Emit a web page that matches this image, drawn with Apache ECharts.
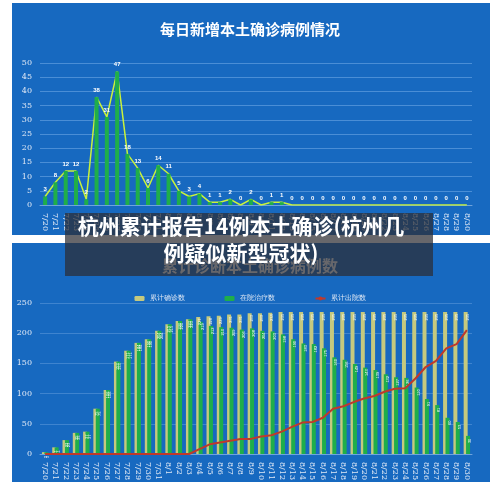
<!DOCTYPE html><html><head><meta charset="utf-8">
<script src="https://cdn.jsdelivr.net/npm/echarts@6/dist/echarts.min.js"></script>
<style>body{margin:0;background:#fff}#c{width:500px;height:485px}</style></head><body><div id="c"></div>
<script>
const dates=['7/20','7/21','7/22','7/23','7/24','7/25','7/26','7/27','7/28','7/29','7/30','7/31','8/1','8/2','8/3','8/4','8/5','8/6','8/7','8/8','8/9','8/10','8/11','8/12','8/13','8/14','8/15','8/16','8/17','8/18','8/19','8/20','8/21','8/22','8/23','8/24','8/25','8/26','8/27','8/28','8/29','8/30'];
const daily=[3,8,12,12,2,38,31,47,18,13,6,14,11,5,3,4,1,1,2,0,2,0,1,1,0,0,0,0,0,0,0,0,0,0,0,0,0,0,0,0,0,0];
const cumulative=[3,11,23,35,37,75,106,153,171,184,190,204,215,220,223,227,228,229,231,231,233,233,234,235,235,235,235,235,235,235,235,235,235,235,235,235,235,235,235,235,235,235];
const discharged=[0,0,0,0,0,0,0,0,0,0,0,0,0,0,0,8,16,19,22,25,25,29,31,37,45,52,53,60,75,79,86,92,96,103,108,109,125,144,154,175,182,205];
const hospital=cumulative.map((v,i)=>v-discharged[i]);
const ch=echarts.init(document.getElementById('c'));
const axLab={color:'#dfe8f5',fontSize:8,rotate:-90,interval:0,fontFamily:'DejaVu Serif'};
ch.setOption({
 animation:false,
 graphic:[
  {type:'rect',shape:{x:12,y:3,width:478,height:232},style:{fill:'#1769c0'},z:-10},
  {type:'rect',shape:{x:12,y:243,width:478,height:239},style:{fill:'#1769c0'},z:-10},
  {type:'text',left:'center',top:22,style:{text:'每日新增本土确诊病例情况',fill:'#fff',font:'bold 15px "Noto Sans CJK SC"'},z:10},
  {type:'text',left:'center',top:258,style:{text:'累计诊断本土确诊病例数',fill:'#fff',font:'bold 16px "Noto Sans CJK SC"'},z:10},
  {type:'rect',shape:{x:65,y:213,width:368,height:63},style:{fill:'rgba(45,45,50,0.72)'},z:100},
  {type:'text',x:241,y:213,style:{text:'杭州累计报告14例本土确诊(杭州几\n例疑似新型冠状)',fill:'#fff',align:'center',lineHeight:27,font:'bold 21px "Noto Sans CJK SC"'},z:101}
 ],
 legend:{top:290,left:'center',itemWidth:10,itemHeight:5,itemGap:40,textStyle:{color:'#dfe8f5',fontSize:7},data:['累计确诊数','在院治疗数','累计出院数']},
 grid:[{left:40,right:28,top:63,height:142},{left:40,right:28,top:303,height:151}],
 xAxis:[
  {gridIndex:0,type:'category',data:dates,axisLabel:axLab,axisTick:{show:false},axisLine:{lineStyle:{color:'#6fa3dc'}}},
  {gridIndex:1,type:'category',data:dates,axisLabel:axLab,axisTick:{show:false},axisLine:{lineStyle:{color:'#6fa3dc'}}}],
 yAxis:[
  {gridIndex:0,min:0,max:50,interval:5,axisLabel:{color:'#dfe8f5',fontSize:8,fontFamily:'DejaVu Serif'},splitLine:{lineStyle:{color:'#4a8ed6'}}},
  {gridIndex:1,min:0,max:250,interval:50,axisLabel:{color:'#dfe8f5',fontSize:8,fontFamily:'DejaVu Serif'},splitLine:{lineStyle:{color:'#3f84cf'}}}],
 series:[
  {type:'bar',xAxisIndex:0,yAxisIndex:0,data:daily,barWidth:4,itemStyle:{color:'#1fae4a'},label:{show:true,position:'top',color:'#fff',fontSize:6,fontWeight:'bold',distance:4},labelLayout:{hideOverlap:false}},
  {type:'line',xAxisIndex:0,yAxisIndex:0,data:daily,symbol:'none',lineStyle:{color:'#c9f23a',width:1.5},z:1},
  {name:'累计确诊数',type:'bar',xAxisIndex:1,yAxisIndex:1,data:cumulative,barWidth:4,barGap:'-40%',itemStyle:{color:'#c5c97e'},label:{show:true,position:'insideTop',color:'#fff',fontSize:4,rotate:90}},
  {name:'在院治疗数',type:'bar',xAxisIndex:1,yAxisIndex:1,data:hospital,barWidth:4,itemStyle:{color:'#1fae4a'},label:{show:true,position:'insideTop',color:'#fff',fontSize:4,rotate:90}},
  {name:'累计出院数',type:'line',xAxisIndex:1,yAxisIndex:1,data:discharged,symbol:'none',lineStyle:{color:'#c0392b',width:2},itemStyle:{color:'#c0392b'}}
 ]
});
</script></body></html>
